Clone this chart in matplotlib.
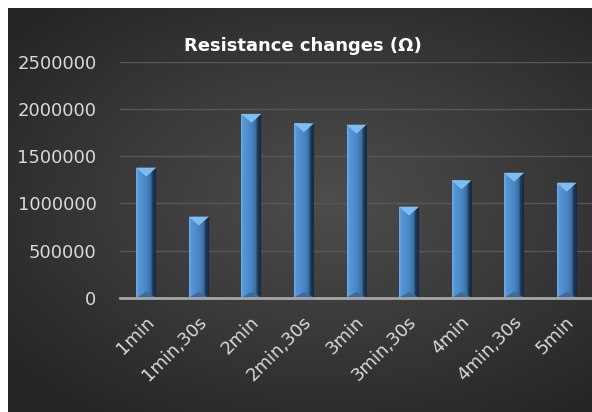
import numpy as np
import matplotlib.pyplot as plt
import matplotlib.transforms as mtransforms
from matplotlib.colors import LinearSegmentedColormap
from matplotlib.patches import Polygon

# datos
categorias = ["1min", "1min,30s", "2min", "2min,30s", "3min",
              "3min,30s", "4min", "4min,30s", "5min"]
resistencia = [1380000, 860000, 1950000, 1850000, 1835000,
               965000, 1245000, 1325000, 1220000]
marcas_y = [0, 500000, 1000000, 1500000, 2000000, 2500000]

W, H = 592, 412
fig = plt.figure(figsize=(W / 100, H / 100), dpi=100)
fig.patch.set_facecolor("white")

# fondo oscuro con degradado radial
bg = fig.add_axes([8 / W, 0, (W - 8) / W, (H - 8) / H])
bg.set_axis_off()
gx, gy = np.meshgrid(np.linspace(-1, 1, 300), np.linspace(-1, 1, 200))
r = np.sqrt(((gx - 0.1) / 1.1) ** 2 + ((gy + 0.05) / 1.0) ** 2)
cmap_bg = LinearSegmentedColormap.from_list("bg", ["#4d4d4d", "#3a3a3a", "#252525"])
bg.imshow(np.clip(r / 1.3, 0, 1), cmap=cmap_bg, vmin=0, vmax=1,
          aspect="auto", extent=[0, 1, 0, 1])
bg.set_xlim(0, 1)
bg.set_ylim(0, 1)

# ejes principales
ax = fig.add_axes([120 / W, (H - 297.7) / H, 473 / W, 235.7 / H])
ax.set_facecolor("none")
for s in ax.spines.values():
    s.set_visible(False)
ax.set_yticks(marcas_y)
ax.set_yticklabels([str(v) for v in marcas_y])
ax.grid(axis="y", color="#575757", linewidth=1)
ax.set_axisbelow(True)
ax.tick_params(axis="both", length=0, colors="#d9d9d9", labelsize=13)
ax.tick_params(axis="y", pad=17)
ax.tick_params(axis="x", pad=11)

ax.set_xticks(range(len(categorias)))
ax.set_xticklabels(categorias, rotation=45, ha="right", rotation_mode="anchor")
offset = mtransforms.ScaledTranslation(-1 / 72, 0, fig.dpi_scale_trans)
for lbl in ax.get_xticklabels():
    lbl.set_transform(lbl.get_transform() + offset)

# barras
barras = ax.bar(range(len(categorias)), resistencia, width=0.38,
                color="#4a86c5", zorder=2)

cmap_bar = LinearSegmentedColormap.from_list(
    "bar", [(0, "#6fb0ee"), (0.1, "#5797d8"), (0.5, "#4a86c5"),
            (0.75, "#3a6ea3"), (0.82, "#223e5e"), (1, "#15273b")])
grad = np.linspace(0, 1, 100).reshape(1, -1)

# pixel -> datos
px_y = 2500000 / 235.7
for b in barras:
    x0, w, h = b.get_x(), b.get_width(), b.get_height()
    im = ax.imshow(grad, cmap=cmap_bar, aspect="auto",
                   extent=[x0, x0 + w, 0, h], zorder=3)
    im.set_clip_path(b)
    d = 9 * px_y
    xc = x0 + w / 2
    top = Polygon([[x0, h], [x0 + w, h], [xc, h - d]], closed=True,
                  facecolor="#7dbdf0", edgecolor="none", zorder=4)
    ax.add_patch(top)
    bot = Polygon([[x0, 0], [x0 + w, 0], [xc, 6 * px_y]], closed=True,
                  facecolor="#3b6c9e", edgecolor="none", zorder=4)
    ax.add_patch(bot)

ax.set_xlim(-0.5, len(categorias) - 0.5)
ax.set_ylim(0, 2500000)
ax.axhline(0, color="#a6a6a6", linewidth=2, zorder=5, clip_on=False)

fig.text(303 / W, (H - 46) / H, "Resistance changes (Ω)", ha="center",
         va="center", color="white", fontsize=13, fontweight="bold")

fig.savefig("out.png", dpi=100, facecolor=fig.get_facecolor())
